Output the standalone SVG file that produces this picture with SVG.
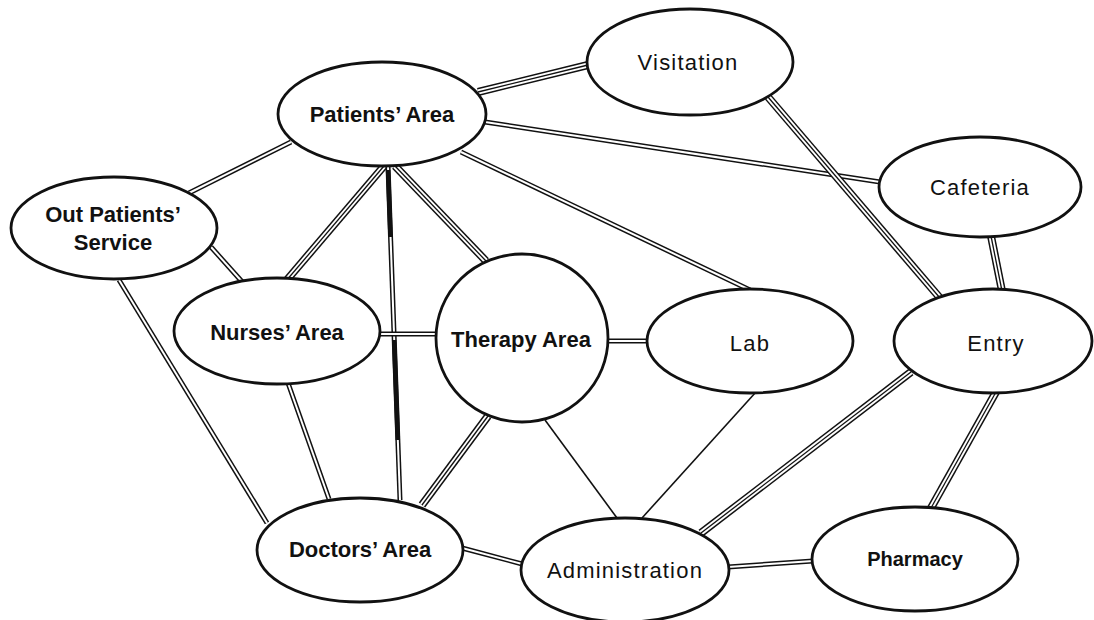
<svg xmlns="http://www.w3.org/2000/svg" width="1094" height="620" viewBox="0 0 1094 620">
<style>
.bg{fill:#fff}
.node ellipse{fill:#fff;stroke:#111;stroke-width:2.8}
.t{font-family:"Liberation Sans",Arial,sans-serif;font-size:22px;fill:#111;text-anchor:middle}
.b{font-weight:bold}
.r{letter-spacing:1.2px}
.d .o{stroke:#111;stroke-width:5;stroke-linecap:butt}
.d .i{stroke:#fff;stroke-width:2;stroke-linecap:butt}
.tr .o{stroke:#111;stroke-width:8;stroke-linecap:butt}
.tr .i{stroke:#fff;stroke-width:5;stroke-linecap:butt}
.tr .c{stroke:#111;stroke-width:1.3;stroke-linecap:butt}
.s{stroke:#111;stroke-width:1.6}
.h{stroke:#111;stroke-width:4.5}
</style>
<rect class="bg" width="1094" height="620"/>
<g id="connectors">
  <!-- Patients - Visitation (triple) -->
  <g class="tr"><line class="o" x1="478" y1="92" x2="588" y2="65"/><line class="i" x1="478" y1="92" x2="588" y2="65"/><line class="c" x1="478" y1="92" x2="588" y2="65"/></g>
  <!-- Patients - Cafeteria (double) -->
  <g class="d"><line class="o" x1="485" y1="122" x2="880" y2="182"/><line class="i" x1="485" y1="122" x2="880" y2="182"/></g>
  <!-- Visitation - Entry (triple) -->
  <g class="tr"><line class="o" x1="768" y1="97" x2="940" y2="298"/><line class="i" x1="768" y1="97" x2="940" y2="298"/><line class="c" x1="768" y1="97" x2="940" y2="298"/></g>
  <!-- Cafeteria - Entry (triple) -->
  <g class="tr"><line class="o" x1="991" y1="236" x2="1002" y2="291"/><line class="i" x1="991" y1="236" x2="1002" y2="291"/><line class="c" x1="991" y1="236" x2="1002" y2="291"/></g>
  <!-- Patients - Lab (double) -->
  <g class="d"><line class="o" x1="461" y1="152" x2="750" y2="290"/><line class="i" x1="461" y1="152" x2="750" y2="290"/></g>
  <!-- Patients - Therapy (triple) -->
  <g class="tr"><line class="o" x1="395" y1="166" x2="486" y2="261"/><line class="i" x1="395" y1="166" x2="486" y2="261"/><line class="c" x1="395" y1="166" x2="486" y2="261"/></g>
  <!-- Patients - Nurses (triple) -->
  <g class="tr"><line class="o" x1="384" y1="166" x2="286" y2="281"/><line class="i" x1="384" y1="166" x2="286" y2="281"/><line class="c" x1="384" y1="166" x2="286" y2="281"/></g>
  <!-- Patients - Out Patients (double) -->
  <g class="d"><line class="o" x1="291" y1="142" x2="189" y2="193"/><line class="i" x1="291" y1="142" x2="189" y2="193"/></g>
  <!-- Out Patients - Nurses (double) -->
  <g class="d"><line class="o" x1="211" y1="247" x2="245" y2="285"/><line class="i" x1="211" y1="247" x2="245" y2="285"/></g>
  <!-- Out Patients - Doctors (double) -->
  <g class="d"><line class="o" x1="119" y1="280" x2="267" y2="523"/><line class="i" x1="119" y1="280" x2="267" y2="523"/></g>
  <!-- Patients - Doctors (double, heavy) -->
  <g class="d"><line class="o" x1="388" y1="166" x2="400" y2="500"/><line class="i" x1="388" y1="166" x2="400" y2="500"/></g>
  <line class="h" x1="388.1" y1="170" x2="390.5" y2="237"/>
  <line class="h" x1="394.2" y1="340" x2="397.8" y2="440"/>
  <!-- Nurses - Therapy (double) -->
  <g class="d"><line class="o" x1="380" y1="334" x2="437" y2="334"/><line class="i" x1="380" y1="334" x2="437" y2="334"/></g>
  <!-- Nurses - Doctors (double) -->
  <g class="d"><line class="o" x1="288" y1="383" x2="329" y2="499"/><line class="i" x1="288" y1="383" x2="329" y2="499"/></g>
  <!-- Therapy - Doctors (triple) -->
  <g class="tr"><line class="o" x1="488" y1="416" x2="422" y2="505"/><line class="i" x1="488" y1="416" x2="422" y2="505"/><line class="c" x1="488" y1="416" x2="422" y2="505"/></g>
  <!-- Therapy - Lab (double) -->
  <g class="d"><line class="o" x1="607" y1="341" x2="648" y2="341"/><line class="i" x1="607" y1="341" x2="648" y2="341"/></g>
  <!-- Therapy - Administration (single) -->
  <line class="s" x1="545" y1="420" x2="617" y2="518"/>
  <!-- Lab - Administration (single) -->
  <line class="s" x1="756" y1="392" x2="642" y2="518"/>
  <!-- Doctors - Administration (double) -->
  <g class="d"><line class="o" x1="462" y1="548" x2="526" y2="565"/><line class="i" x1="462" y1="548" x2="526" y2="565"/></g>
  <!-- Administration - Entry (triple) -->
  <g class="tr"><line class="o" x1="701" y1="533" x2="911" y2="372"/><line class="i" x1="701" y1="533" x2="911" y2="372"/><line class="c" x1="701" y1="533" x2="911" y2="372"/></g>
  <!-- Administration - Pharmacy (double) -->
  <g class="d"><line class="o" x1="728" y1="567" x2="813" y2="561"/><line class="i" x1="728" y1="567" x2="813" y2="561"/></g>
  <!-- Entry - Pharmacy (triple) -->
  <g class="tr"><line class="o" x1="996" y1="392" x2="931" y2="508"/><line class="i" x1="996" y1="392" x2="931" y2="508"/><line class="c" x1="996" y1="392" x2="931" y2="508"/></g>
</g>
<g id="patients" class="node"><ellipse cx="382" cy="114" rx="104" ry="52"/><text class="t b" x="382" y="122">Patients’ Area</text></g>
<g id="outpatients" class="node"><ellipse cx="114" cy="228" rx="103" ry="51"/><text class="t b" x="113" y="222">Out Patients’</text><text class="t b" x="113" y="250">Service</text></g>
<g id="visitation" class="node"><ellipse cx="690" cy="62" rx="103" ry="53"/><text class="t r" x="688" y="70">Visitation</text></g>
<g id="cafeteria" class="node"><ellipse cx="980" cy="187" rx="101" ry="50"/><text class="t r" x="980" y="195">Cafeteria</text></g>
<g id="nurses" class="node"><ellipse cx="277" cy="331" rx="103" ry="53"/><text class="t b" x="277" y="340">Nurses’ Area</text></g>
<g id="therapy" class="node"><ellipse cx="522" cy="338" rx="86" ry="84"/><text class="t b" x="521" y="347">Therapy Area</text></g>
<g id="lab" class="node"><ellipse cx="750" cy="341" rx="103" ry="52"/><text class="t r" x="750" y="351">Lab</text></g>
<g id="entry" class="node"><ellipse cx="993" cy="341" rx="99" ry="52"/><text class="t r" x="996" y="351">Entry</text></g>
<g id="doctors" class="node"><ellipse cx="360" cy="550" rx="103" ry="52"/><text class="t b" x="360" y="557">Doctors’ Area</text></g>
<g id="administration" class="node"><ellipse cx="625" cy="570" rx="104" ry="52"/><text class="t r" x="625" y="578">Administration</text></g>
<g id="pharmacy" class="node"><ellipse cx="915" cy="559" rx="103" ry="52"/><text class="t b" x="915" y="566" style="font-size:20px">Pharmacy</text></g>
</svg>
